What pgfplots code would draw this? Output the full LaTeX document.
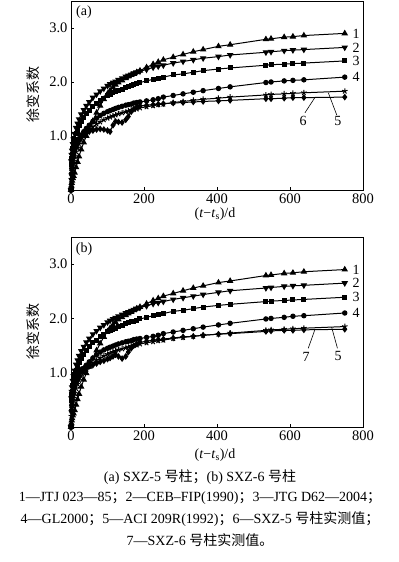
\documentclass[border=0pt]{standalone}
\usepackage{fontspec}
\setmainfont{Liberation Serif}
\newfontfamily\cjk{Noto Sans CJK SC}
\usepackage{pgfplots}
\pgfplotsset{compat=1.18}
\usepackage{pgfplotstable}

\pgfplotstableread{
t j c g gl aci m
0 0 0 0 0 0 0
1 0.08 0.53 0.48 0.30 0.20 0.20
2 0.13 0.65 0.59 0.40 0.29 0.30
3 0.17 0.73 0.66 0.48 0.35 0.40
5 0.22 0.85 0.77 0.58 0.45 0.50
7 0.26 0.94 0.85 0.66 0.53 0.60
10 0.32 1.04 0.94 0.75 0.62 0.70
14 0.42 1.15 1.04 0.83 0.71 0.80
18 0.52 1.23 1.11 0.90 0.78 0.88
22 0.62 1.31 1.19 0.95 0.85 0.93
28 0.75 1.40 1.27 1.02 0.92 0.98
35 0.88 1.48 1.34 1.08 0.99 1.02
42 1.00 1.56 1.41 1.14 1.05 1.06
50 1.12 1.63 1.48 1.20 1.11 1.08
60 1.28 1.71 1.55 1.27 1.17 1.10
70 1.43 1.77 1.60 1.33 1.22 1.12
80 1.56 1.83 1.66 1.38 1.26 1.13
90 1.68 1.88 1.70 1.42 1.30 1.12
100 1.78 1.93 1.75 1.45 1.33 1.10
107 1.84 1.96 1.77 1.47 1.35 1.08
115 1.90 1.99 1.80 1.49 1.37 1.20
122 1.95 2.01 1.82 1.51 1.39 1.27
130 1.99 2.04 1.85 1.53 1.41 1.26
140 2.03 2.07 1.87 1.55 1.43 1.25
150 2.07 2.10 1.90 1.57 1.45 1.30
157 2.10 2.12 1.92 1.58 1.46 1.36
165 2.13 2.14 1.94 1.59 1.48 1.45
172 2.15 2.16 1.95 1.61 1.49 1.50
180 2.18 2.18 1.97 1.62 1.50 1.54
189 2.21 2.20 1.99 1.63 1.52 1.56
207 2.27 2.23 2.02 1.65 1.54 1.57
225 2.33 2.27 2.05 1.67 1.56 1.58
239 2.37 2.29 2.07 1.69 1.58 1.59
253 2.41 2.31 2.09 1.72 1.59 1.60
280 2.46 2.35 2.13 1.75 1.62 1.61
307 2.51 2.38 2.15 1.78 1.64 1.62
335 2.56 2.41 2.18 1.81 1.66 1.63
362 2.60 2.44 2.21 1.84 1.68 1.64
404 2.66 2.47 2.24 1.88 1.70 1.65
436 2.69 2.50 2.26 1.91 1.72 1.66
534 2.79 2.55 2.31 1.99 1.76 1.69
548 2.80 2.56 2.32 2.00 1.77 1.69
584 2.83 2.58 2.33 2.02 1.78 1.70
608 2.84 2.59 2.34 2.03 1.79 1.71
638 2.86 2.60 2.35 2.04 1.80 1.71
750 2.90 2.64 2.39 2.09 1.83 1.72
}\dataA

\pgfplotstableread{
t j c g gl aci m
0 0 0 0 0 0 0
1 0.07 0.53 0.48 0.30 0.20 0.30
2 0.12 0.65 0.59 0.40 0.29 0.45
3 0.16 0.73 0.66 0.48 0.35 0.55
5 0.21 0.85 0.77 0.58 0.45 0.68
7 0.25 0.94 0.85 0.66 0.53 0.78
10 0.31 1.04 0.94 0.75 0.62 0.88
14 0.41 1.15 1.04 0.83 0.71 0.95
18 0.51 1.23 1.11 0.90 0.79 1.00
22 0.61 1.31 1.19 0.95 0.86 1.03
28 0.74 1.40 1.27 1.02 0.93 1.06
35 0.87 1.48 1.34 1.08 1.00 1.08
42 0.99 1.56 1.41 1.14 1.06 1.10
50 1.11 1.63 1.48 1.20 1.12 1.12
60 1.26 1.71 1.55 1.27 1.18 1.14
70 1.41 1.77 1.60 1.33 1.23 1.17
80 1.54 1.83 1.66 1.38 1.27 1.20
90 1.66 1.88 1.70 1.42 1.31 1.22
100 1.76 1.93 1.75 1.45 1.34 1.25
107 1.82 1.96 1.77 1.47 1.36 1.27
115 1.88 1.99 1.80 1.49 1.38 1.30
122 1.93 2.01 1.82 1.51 1.40 1.33
130 1.98 2.04 1.85 1.53 1.42 1.30
140 2.02 2.07 1.87 1.55 1.44 1.26
150 2.06 2.10 1.90 1.57 1.46 1.30
157 2.09 2.12 1.92 1.58 1.47 1.38
165 2.12 2.14 1.94 1.59 1.49 1.45
172 2.15 2.16 1.95 1.61 1.50 1.50
180 2.18 2.18 1.97 1.62 1.51 1.53
189 2.21 2.20 1.99 1.63 1.53 1.56
207 2.27 2.23 2.02 1.65 1.55 1.58
225 2.33 2.27 2.05 1.67 1.57 1.60
239 2.37 2.29 2.07 1.69 1.59 1.61
253 2.41 2.31 2.09 1.72 1.60 1.62
280 2.46 2.35 2.13 1.75 1.63 1.64
307 2.51 2.38 2.15 1.78 1.65 1.66
335 2.56 2.41 2.18 1.81 1.67 1.67
362 2.60 2.44 2.21 1.84 1.69 1.69
404 2.66 2.48 2.24 1.88 1.71 1.71
436 2.69 2.51 2.26 1.91 1.73 1.72
534 2.79 2.56 2.31 1.99 1.78 1.76
548 2.80 2.57 2.32 2.00 1.79 1.77
584 2.83 2.59 2.33 2.02 1.80 1.78
608 2.84 2.60 2.34 2.04 1.81 1.78
638 2.86 2.61 2.35 2.05 1.82 1.79
750 2.90 2.65 2.39 2.10 1.85 1.80
}\dataB

\pgfplotsset{
  myaxis/.style={
    scale only axis, width=292bp, height=189bp, anchor=south west,
    xmin=0, xmax=800, ymin=0, ymax=3.5,
    xtick={0,200,400,600,800}, xticklabels={0,200,400,600,800},
    ytick={1,2,3}, yticklabels={1.0,2.0,3.0},
    tick align=inside, xtick pos=bottom, ytick pos=left,
    major tick length=3bp,
    tick style={black, line width=0.7bp},
    axis line style={line width=0.8bp},
    ticklabel style={font=\fontsize{14.5bp}{16bp}\selectfont},
    clip=false,
    every axis plot/.append style={black, line width=1bp, mark options={solid, fill=black}},
  },
  c1/.style={mark=triangle*, mark size=2.8bp},
  c2/.style={mark=triangle*, mark size=2.8bp, mark options={rotate=180, solid, fill=black}},
  c3/.style={mark=square*, mark size=2.0bp},
  c4/.style={mark=*, mark size=2.2bp},
  c5/.style={mark=star, mark size=2.9bp, mark options={line width=1bp}},
  c6/.style={mark=diamond*, mark size=2.6bp},
}

\begin{document}
\begin{tikzpicture}[x=1bp,y=1bp,font=\fontsize{14bp}{16bp}\selectfont]
\useasboundingbox (0,0) rectangle (398,562);
% ---------- (a)
\begin{axis}[myaxis, at={(71bp,372bp)}]
\addplot[c1] table[x=t,y=j]{\dataA};
\addplot[c2] table[x=t,y=c]{\dataA};
\addplot[c3] table[x=t,y=g]{\dataA};
\addplot[c4] table[x=t,y=gl]{\dataA};
\addplot[c5] table[x=t,y=aci]{\dataA};
\addplot[c6] table[x=t,y=m]{\dataA};
\node[anchor=west] at (axis cs:762,2.90) {1};
\node[anchor=west] at (axis cs:762,2.64) {2};
\node[anchor=west] at (axis cs:762,2.39) {3};
\node[anchor=west] at (axis cs:762,2.09) {4};
\node at (axis cs:636,1.28) {6};
\node at (axis cs:731,1.28) {5};
\draw[line width=0.6bp] (axis cs:641,1.43) -- (axis cs:668,1.71);
\draw[line width=0.6bp] (axis cs:728,1.39) -- (axis cs:705,1.80);
\end{axis}
% ---------- (b)
\begin{axis}[myaxis, at={(71bp,135bp)}, height=190bp]
\addplot[c1] table[x=t,y=j]{\dataB};
\addplot[c2] table[x=t,y=c]{\dataB};
\addplot[c3] table[x=t,y=g]{\dataB};
\addplot[c4] table[x=t,y=gl]{\dataB};
\addplot[c5] table[x=t,y=aci]{\dataB};
\addplot[c6] table[x=t,y=m]{\dataB};
\node[anchor=west] at (axis cs:762,2.90) {1};
\node[anchor=west] at (axis cs:762,2.65) {2};
\node[anchor=west] at (axis cs:762,2.39) {3};
\node[anchor=west] at (axis cs:762,2.10) {4};
\node at (axis cs:644,1.30) {7};
\node at (axis cs:732,1.30) {5};
\draw[line width=0.6bp] (axis cs:650,1.45) -- (axis cs:668,1.79);
\draw[line width=0.6bp] (axis cs:730,1.45) -- (axis cs:714,1.84);
\end{axis}
% labels
\node at (84,550) {(a)};
\node at (84,313) {(b)};
\node[rotate=90] at (33,467) {\cjk 徐变系数};
\node[rotate=90] at (33,230) {\cjk 徐变系数};
\node at (215,348) {(\textit{t}−\textit{t}\textsubscript{s})/d};
\node at (215,107) {(\textit{t}−\textit{t}\textsubscript{s})/d};
\node at (200,85) {(a) SXZ-5 {\cjk 号柱；}(b) SXZ-6 {\cjk 号柱}};
\node at (200,64) {1—JTJ 023—85{\cjk ；}2—CEB–FIP(1990){\cjk ；}3—JTG D62—2004{\cjk ；}};
\node at (200,43) {4—GL2000{\cjk ；}5—ACI 209R(1992){\cjk ；}6—SXZ-5 {\cjk 号柱实测值；}};
\node at (200,22) {7—SXZ-6 {\cjk 号柱实测值。}};
\end{tikzpicture}
\end{document}
